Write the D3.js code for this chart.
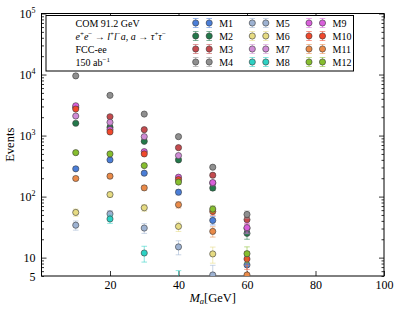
<!DOCTYPE html>
<html>
<head>
<meta charset="utf-8">
<script src="https://cdn.jsdelivr.net/npm/d3@7"></script>
<style>
  body { margin: 0; background: #fff; }
  svg { display: block; font-family: "Liberation Serif", "DejaVu Serif", serif; }
  .axis path { display: none; }
  .axis line { stroke: #000; stroke-width: 0.8; }
  .axis text { font-size: 12px; fill: #000; font-family: "Liberation Serif", serif; }
</style>
</head>
<body>
<svg id="chart" width="399" height="314"></svg>
<script>
// data
var masses = [10, 20, 30, 40, 50, 60];
var seriesNames = ["M1", "M2", "M3", "M4", "M5", "M6", "M7", "M8", "M9", "M10", "M11", "M12"];
var seriesColors = ["#4a7ed8", "#23794a", "#c44a4e", "#8f8f8f", "#9db2d2", "#e6db82",
                    "#d08cd6", "#2cd2c4", "#d95fdb", "#f0482c", "#ea8a48", "#86be2e"];
var M1  = [285, 399, 242, 118, 40.7, 7.6];
var M2  = [1590, 1370, 805, 399, 138, 25];
var M3  = [2900, 2035, 1250, 634, 224, 41.8];
var M4  = [9500, 4560, 2250, 960, 303, 51];
var M5  = [34, 52, 30.5, 15, 5.2, null];
var M6  = [55, 108, 65.6, 32.5, 11.5, null];
var M7  = [2090, 1650, 960, 470, 166, 30.1];
var M8  = [null, 43, 11.9, 4.1, null, null];
var M9  = [3080, 1250, 546, 208, 170, 31];
var M10 = [2720, 1145, 500, 190, 57, 9.5];
var M11 = [198, 216, 139, 73.5, 26.9, 5.2];
var M12 = [525, 500, 322, 173, 62.5, 11.6];
var seriesValues = [M1, M2, M3, M4, M5, M6, M7, M8, M9, M10, M11, M12];

var xTicks = [20, 40, 60, 80, 100];
var yLabelTicks = [5, 10, 100, 1000, 10000, 100000];

var svg = d3.select("#chart");
var W = 399, H = 314;
var plot = {left: 41.5, right: 384, top: 13.5, bottom: 276};

svg.append("rect").attr("width", W).attr("height", H).attr("fill", "#fff");

var x = d3.scaleLinear().domain([0, 100]).range([plot.left, plot.right]);
var y = d3.scaleLog().domain([5, 1e5]).range([plot.bottom, plot.top]);

// minor ticks of the log axis
var yMinor = [];
[1, 10, 100, 1000, 10000].forEach(function(d) {
  for (var k = 2; k < 10; k++) {
    var v = d * k;
    if (v >= 5 && v <= 1e5) yMinor.push(v);
  }
});
var yMajor = [10, 100, 1000, 10000, 100000];

// axes (ticks inward on all four sides)
svg.append("g").attr("class", "axis")
  .attr("transform", "translate(0," + plot.bottom + ")")
  .call(d3.axisBottom(x).tickValues(xTicks).tickSizeInner(-5).tickSizeOuter(0).tickPadding(4).tickFormat(d3.format("d")));
svg.append("g").attr("class", "axis")
  .attr("transform", "translate(0," + plot.top + ")")
  .call(d3.axisTop(x).tickValues(xTicks).tickSizeInner(-5).tickSizeOuter(0).tickFormat(""));

svg.append("g").attr("class", "axis")
  .attr("transform", "translate(" + plot.left + ",0)")
  .call(d3.axisLeft(y).tickValues(yMajor).tickSizeInner(-5).tickSizeOuter(0).tickFormat(""));
svg.append("g").attr("class", "axis")
  .attr("transform", "translate(" + plot.left + ",0)")
  .call(d3.axisLeft(y).tickValues(yMinor).tickSizeInner(-2.5).tickSizeOuter(0).tickFormat(""));
svg.append("g").attr("class", "axis")
  .attr("transform", "translate(" + plot.right + ",0)")
  .call(d3.axisRight(y).tickValues(yMajor).tickSizeInner(-5).tickSizeOuter(0).tickFormat(""));
svg.append("g").attr("class", "axis")
  .attr("transform", "translate(" + plot.right + ",0)")
  .call(d3.axisRight(y).tickValues(yMinor).tickSizeInner(-2.5).tickSizeOuter(0).tickFormat(""));

// y tick labels with superscripts
var yLab = svg.append("g").attr("class", "axis")
  .attr("transform", "translate(" + plot.left + ",0)")
  .call(d3.axisLeft(y).tickValues(yLabelTicks).tickSize(0).tickPadding(6).tickFormat(""));
yLab.selectAll(".tick text").each(function(d) {
  var t = d3.select(this).attr("dy", "0.35em");
  var e = Math.round(Math.log10(d));
  if (d === 5 || d === 10) {
    t.text(String(d));
  } else {
    t.append("tspan").text("10");
    t.append("tspan").attr("baseline-shift", "5").attr("font-size", "8px").text(String(e));
  }
});

// frame
svg.append("rect")
  .attr("x", plot.left).attr("y", plot.top)
  .attr("width", plot.right - plot.left).attr("height", plot.bottom - plot.top)
  .attr("fill", "none").attr("stroke", "#000").attr("stroke-width", 1);

// axis titles
svg.append("text")
  .attr("transform", "translate(14," + ((plot.top + plot.bottom) / 2) + ") rotate(-90)")
  .attr("text-anchor", "middle").attr("font-size", "12.5px").text("Events");
var xt = svg.append("text")
  .attr("x", (plot.left + plot.right) / 2).attr("y", 302)
  .attr("text-anchor", "middle").attr("font-size", "12.5px");
xt.append("tspan").attr("font-style", "italic").text("M");
xt.append("tspan").attr("font-style", "italic").attr("font-size", "8.5px").attr("baseline-shift", "-2").text("a");
xt.append("tspan").text("[GeV]");

// clip for data
svg.append("defs").append("clipPath").attr("id", "clip")
  .append("rect").attr("x", plot.left).attr("y", plot.top)
  .attr("width", plot.right - plot.left).attr("height", plot.bottom - plot.top);

var dataG = svg.append("g").attr("clip-path", "url(#clip)");
var cap = 2.8, r = 3.1;

function lo(v) { return Math.max(v - Math.sqrt(v), 0.5); }
function hi(v) { return v + Math.sqrt(v); }

seriesValues.forEach(function(vals, si) {
  var pts = masses.map(function(m, i) { return {m: m, v: vals[i]}; })
    .filter(function(d) { return d.v != null; });
  var g = dataG.append("g").attr("class", "series-" + seriesNames[si]);
  var col = seriesColors[si];
  // Poisson error bars
  var eb = g.selectAll(".eb").data(pts).enter().append("g")
    .attr("stroke", col).attr("stroke-opacity", 0.55).attr("stroke-width", 1);
  eb.append("line")
    .attr("x1", function(d) { return x(d.m); }).attr("x2", function(d) { return x(d.m); })
    .attr("y1", function(d) { return y(lo(d.v)); })
    .attr("y2", function(d) { return y(hi(d.v)); });
  eb.append("line")
    .attr("x1", function(d) { return x(d.m) - cap; }).attr("x2", function(d) { return x(d.m) + cap; })
    .attr("y1", function(d) { return y(hi(d.v)); })
    .attr("y2", function(d) { return y(hi(d.v)); });
  eb.append("line")
    .attr("x1", function(d) { return x(d.m) - cap; }).attr("x2", function(d) { return x(d.m) + cap; })
    .attr("y1", function(d) { return y(lo(d.v)); })
    .attr("y2", function(d) { return y(lo(d.v)); });
  g.selectAll("circle").data(pts).enter().append("circle")
    .attr("cx", function(d) { return x(d.m); })
    .attr("cy", function(d) { return y(d.v); })
    .attr("r", r)
    .attr("fill", col).attr("stroke", "#3a3a3a").attr("stroke-width", 0.6);
});

// legend
var leg = svg.append("g");
leg.append("rect").attr("x", 46).attr("y", 15.5).attr("width", 307.5).attr("height", 55.5)
  .attr("fill", "#fff").attr("stroke", "#000").attr("stroke-width", 1);

var rowY = [23, 36, 49, 62];
var infoX = 75.5;
var fs = "10px";
function sup(t, s) {
  t.append("tspan").attr("baseline-shift", "4").attr("font-size", "7px").text(s);
}
function it(t, s) { t.append("tspan").attr("font-style", "italic").text(s); }
function rm(t, s) { t.append("tspan").text(s); }

leg.append("text").attr("x", infoX).attr("y", rowY[0]).attr("dy", "0.35em").attr("font-size", fs).text("COM 91.2 GeV");
var proc = leg.append("text").attr("x", infoX).attr("y", rowY[1]).attr("dy", "0.35em").attr("font-size", fs);
it(proc, "e"); sup(proc, "+");
it(proc, "e"); sup(proc, "\u2212");
rm(proc, " \u2192 ");
it(proc, "l"); sup(proc, "+");
it(proc, "l"); sup(proc, "\u2212");
it(proc, "a"); rm(proc, ",  ");
it(proc, "a"); rm(proc, " \u2192 ");
it(proc, "\u03c4"); sup(proc, "+");
it(proc, "\u03c4"); sup(proc, "\u2212");
leg.append("text").attr("x", infoX).attr("y", rowY[2]).attr("dy", "0.35em").attr("font-size", fs).text("FCC-ee");
var lum = leg.append("text").attr("x", infoX).attr("y", rowY[3]).attr("dy", "0.35em").attr("font-size", fs);
rm(lum, "150 ab");
sup(lum, "\u22121");

var colX = [195.7, 252.3, 309];
seriesNames.forEach(function(name, si) {
  var c = Math.floor(si / 4), rr = si % 4;
  var ly = rowY[rr];
  var col = seriesColors[si];
  [0, 13.5].forEach(function(off) {
    var mx = colX[c] + off;
    leg.append("line").attr("x1", mx).attr("x2", mx).attr("y1", ly - 4.5).attr("y2", ly + 4.5)
      .attr("stroke", col).attr("stroke-opacity", 0.55);
    leg.append("line").attr("x1", mx - cap).attr("x2", mx + cap).attr("y1", ly - 4.5).attr("y2", ly - 4.5)
      .attr("stroke", col).attr("stroke-opacity", 0.55);
    leg.append("line").attr("x1", mx - cap).attr("x2", mx + cap).attr("y1", ly + 4.5).attr("y2", ly + 4.5)
      .attr("stroke", col).attr("stroke-opacity", 0.55);
    leg.append("circle").attr("cx", mx).attr("cy", ly).attr("r", r)
      .attr("fill", col).attr("stroke", "#3a3a3a").attr("stroke-width", 0.6);
  });
  leg.append("text").attr("x", colX[c] + 23.5).attr("y", ly).attr("dy", "0.35em")
    .attr("font-size", fs).text(name);
});
</script>
</body>
</html>
